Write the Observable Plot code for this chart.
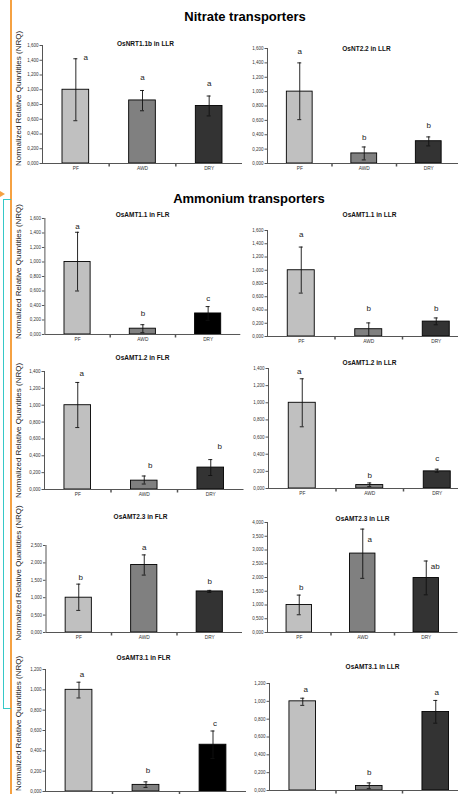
<!DOCTYPE html>
<html><head><meta charset="utf-8">
<script src="https://cdn.jsdelivr.net/npm/d3@7"></script>
<script src="https://cdn.jsdelivr.net/npm/@observablehq/plot@0.6"></script>
<style>
body{margin:0;background:#fff;}
#root{position:relative;width:458px;height:794px;overflow:hidden;background:#fff;font-family:"Liberation Sans",Arial,sans-serif;}
.main-title{position:absolute;font-weight:bold;font-size:13px;color:#000;white-space:nowrap;transform:translate(-50%,-50%);line-height:1;}
.panel{position:absolute;}
.deco{position:absolute;}
</style></head><body><div id="root"></div>
<script>
// ---------- data ----------
const categories = ["PF", "AWD", "DRY"];
const sectionTitles = ["Nitrate transporters", "Ammonium transporters"];
const yLabel = "Normalized Relative Quantities (NRQ)";
const panelTitles = [
  "OsNRT1.1b in LLR", "OsNT2.2 in LLR",
  "OsAMT1.1 in FLR", "OsAMT1.1 in LLR",
  "OsAMT1.2 in FLR", "OsAMT1.2 in LLR",
  "OsAMT2.3 in FLR", "OsAMT2.3 in LLR",
  "OsAMT3.1 in FLR", "OsAMT3.1 in LLR"
];
const means = [
  [1.00, 0.855, 0.78], [1.00, 0.14, 0.31],
  [1.00, 0.08, 0.29],  [1.00, 0.11, 0.225],
  [1.00, 0.105, 0.26], [1.00, 0.04, 0.20],
  [1.00, 1.94, 1.18],  [1.00, 2.87, 1.98],
  [1.00, 0.065, 0.46], [1.00, 0.05, 0.88]
];
const errHigh = [
  [1.42, 0.99, 0.915], [1.40, 0.23, 0.37],
  [1.41, 0.135, 0.385], [1.35, 0.205, 0.28],
  [1.27, 0.16, 0.355], [1.28, 0.065, 0.225],
  [1.39, 2.23, 1.21],  [1.36, 3.76, 2.60],
  [1.075, 0.095, 0.595], [1.035, 0.085, 1.01]
];
const errLow = [
  [0.58, 0.715, 0.645], [0.61, 0.05, 0.245],
  [0.60, 0.025, 0.195], [0.655, 0.005, 0.177],
  [0.735, 0.065, 0.166], [0.72, 0.022, 0.19],
  [0.635, 1.65, 1.15], [0.645, 1.97, 1.37],
  [0.92, 0.04, 0.325], [0.955, 0.02, 0.755]
];
const letters = [
  ["a", "a", "a"], ["a", "b", "b"],
  ["a", "b", "c"], ["a", "b", "b"],
  ["a", "b", "b"], ["a", "b", "c"],
  ["b", "a", "b"], ["b", "a", "ab"],
  ["a", "b", "c"], ["a", "b", "a"]
];
const letterAt = [
  [1.44, 1.17, 1.08], [1.56, 0.36, 0.53],
  [1.49, 0.29, 0.50], [1.54, 0.42, 0.42],
  [1.38, 0.29, 0.51], [1.365, 0.15, 0.35],
  [1.58, 2.44, 1.47], [1.64, 3.38, 2.40],
  [1.15, 0.21, 0.67], [1.13, 0.20, 1.10]
];
const ticks16 = [0, 0.2, 0.4, 0.6, 0.8, 1.0, 1.2, 1.4, 1.6];
const ticks14 = [0, 0.2, 0.4, 0.6, 0.8, 1.0, 1.2, 1.4];
const ticks12 = [0, 0.2, 0.4, 0.6, 0.8, 1.0, 1.2];
const ticks25 = [0, 0.5, 1.0, 1.5, 2.0, 2.5];
const ticks40 = [0, 0.5, 1.0, 1.5, 2.0, 2.5, 3.0, 3.5, 4.0];
const yTicks = [ticks16, ticks16, ticks16, ticks16, ticks14, ticks14, ticks25, ticks40, ticks12, ticks12];

// ---------- layout / style ----------
const layout = [
  {left: 0,   x0: 42,   x1: 242,   yTop: 45,  yBot: 163, title: [145, 43],  ylab: -6,  dry: "#333333", ldx: [10, 0, 0]},
  {left: 229, x0: 267,  x1: 460.5, yTop: 48,  yBot: 163, title: [366, 48],  dry: "#333333", ldx: [0, 0, 0]},
  {left: 0,   x0: 44.4, x1: 240.3, yTop: 218, yBot: 334, title: [142, 214], ylab: -5,  dry: "#000000", ldx: [0, 0, 0]},
  {left: 229, x0: 267,  x1: 469.5, yTop: 230, yBot: 336, title: [369, 214], dry: "#333333", ldx: [0, 0, 0]},
  {left: 0,   x0: 44,   x1: 243.5, yTop: 371, yBot: 489, title: [142, 357], ylab: 0,   dry: "#333333", ldx: [4, 6, 9]},
  {left: 229, x0: 268,  x1: 470.5, yTop: 368, yBot: 488, title: [369, 362], dry: "#333333", ldx: [-3, 0, 0]},
  {left: 0,   x0: 45.5, x1: 242,   yTop: 545, yBot: 632, title: [140, 516], ylab: -16, dry: "#333333", ldx: [2, 0, 0]},
  {left: 229, x0: 267,  x1: 457.5, yTop: 522, yBot: 632, title: [362, 518], dry: "#333333", ldx: [2, 7, 9]},
  {left: 0,   x0: 45,   x1: 246,   yTop: 669, yBot: 791, title: [143, 657], ylab: -7,  dry: "#000000", ldx: [3, 2, 2]},
  {left: 229, x0: 269,  x1: 468.5, yTop: 683, yBot: 790, title: [372, 666], dry: "#333333", ldx: [3, 0, 1]}
];
const PAGE_H = 794;
const FONT = '"Liberation Sans", Arial, sans-serif';
const fmt = d => d3.format(".3f")(d).replace(".", ",");
const vTick = {draw(ctx) { ctx.moveTo(0, 0); ctx.lineTo(0, 3); }};

const root = document.getElementById("root");

// decorations
function deco(css) { const d = document.createElement("div"); d.className = "deco"; d.style.cssText = css; root.appendChild(d); }
deco("left:10px;top:0;width:1.5px;height:794px;background:#f5a142;");
deco("left:0;top:191px;width:0;height:0;border-left:5px solid #f5a142;border-top:3px solid transparent;border-bottom:3px solid transparent;");
deco("left:3px;top:199px;width:7px;height:508px;border:1.5px solid #36c8c8;border-right:none;");

// section titles
[[sectionTitles[0], 245, 16], [sectionTitles[1], 249, 198]].forEach(([t, x, y]) => {
  const d = document.createElement("div");
  d.className = "main-title"; d.textContent = t;
  d.style.left = x + "px"; d.style.top = y + "px";
  root.appendChild(d);
});

function makePanel(i) {
  const L = layout[i];
  const mt = 40, mb = 14;
  const marginLeft = L.x0 - L.left;
  const innerW = L.x1 - L.x0;
  const innerH = L.yBot - L.yTop;
  const step = innerW / 3;
  const bw = step * 0.4;
  const ticks = yTicks[i];
  const yMax = ticks[ticks.length - 1];
  const colors = {PF: "#c0c0c0", AWD: "#808080", DRY: L.dry};
  const rows = categories.map((c, j) => ({
    cat: c, value: means[i][j], lo: errLow[i][j], hi: errHigh[i][j],
    letter: letters[i][j], at: letterAt[i][j]
  }));
  const marks = [
    Plot.barY(rows, {x: "cat", y: "value", fill: d => colors[d.cat], stroke: "#000", strokeWidth: 0.9}),
    Plot.ruleX(rows, {x: "cat", y1: "lo", y2: "hi", stroke: "#111", strokeWidth: 0.9}),
    Plot.tickY(rows, {x: "cat", y: "hi", insetLeft: bw / 2 - 2, insetRight: bw / 2 - 2, stroke: "#111", strokeWidth: 0.9}),
    Plot.tickY(rows, {x: "cat", y: "lo", insetLeft: bw / 2 - 2, insetRight: bw / 2 - 2, stroke: "#111", strokeWidth: 0.9}),
    Plot.ruleY([0], {stroke: "#555", strokeWidth: 1}),
    Plot.ruleX([categories[0]], {x: d => d, y1: 0, y2: yMax, dx: -step / 2, stroke: "#555", strokeWidth: 1}),
    Plot.dot(categories.slice(0, 2), {x: d => d, y: () => 0, symbol: vTick, stroke: "#555", fill: "none", dx: step / 2}),
    Plot.axisY({ticks, tickFormat: fmt, tickSize: 2.5, tickPadding: 1.5, fontSize: 4.5, fill: "#333", stroke: "#555"}),
    Plot.text([panelTitles[i]], {text: d => d, frameAnchor: "top", lineAnchor: "middle", textAnchor: "middle",
      dx: L.title[0] - (L.x0 + L.x1) / 2, dy: L.title[1] - L.yTop, fontWeight: "bold", fontSize: 6.5, fill: "#111"})
  ];
  // category labels only where they fall inside the page (bottom row is cut off in the original)
  if (L.yBot + 10 <= PAGE_H) {
    marks.push(Plot.axisX({tickSize: 0, tickPadding: 3, fontSize: 4.8, fill: "#333"}));
  } else {
    marks.push(Plot.axisX({tickSize: 0, text: null, fontSize: 4.8}));
  }
  rows.forEach((r, j) => {
    marks.push(Plot.text([r], {x: "cat", y: "at", text: "letter", dx: L.ldx[j], fontSize: 8, fill: "#222"}));
  });
  if (L.left === 0) {
    marks.push(Plot.text([yLabel], {text: d => d, frameAnchor: "left", rotate: -90, textAnchor: "middle", lineAnchor: "middle",
      dx: 18 - L.x0, dy: L.ylab, fontSize: 8, fill: "#222"}));
  }
  const chart = Plot.plot({
    width: marginLeft + innerW,
    height: mt + innerH + mb,
    marginLeft, marginRight: 0, marginTop: mt, marginBottom: mb,
    style: {background: "transparent", overflow: "visible", maxWidth: "none", fontFamily: FONT},
    x: {domain: categories, paddingInner: 0.6, paddingOuter: 0.3, round: false, label: null},
    y: {domain: [0, yMax], label: null},
    color: {type: "identity"},
    marks
  });
  const wrap = document.createElement("div");
  wrap.className = "panel";
  wrap.style.left = L.left + "px";
  wrap.style.top = (L.yTop - mt) + "px";
  wrap.appendChild(chart);
  root.appendChild(wrap);
}
for (let i = 0; i < layout.length; i++) makePanel(i);
</script>
</body></html>
